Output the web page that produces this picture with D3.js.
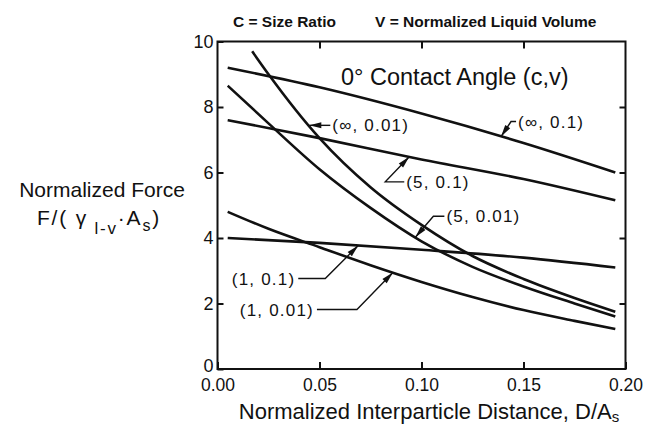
<!DOCTYPE html>
<html>
<head>
<meta charset="utf-8">
<script src="https://cdn.jsdelivr.net/npm/d3@7"></script>
<style>
  body { margin: 0; background: #fff; }
  svg text { font-family: "Liberation Sans", "DejaVu Sans", sans-serif; fill: #111; }
</style>
</head>
<body>
<div id="chart"></div>
<script>

// ---- data ----
var xTicks = [0.00, 0.05, 0.10, 0.15, 0.20];
var yTicks = [0, 2, 4, 6, 8, 10];

var seriesInf01 = [[0.005, 9.2], [0.05, 8.6], [0.10, 7.8], [0.15, 6.9], [0.195, 6.0]];
var seriesFive01 = [[0.005, 7.6], [0.05, 7.05], [0.10, 6.4], [0.15, 5.8], [0.195, 5.15]];
var seriesInf001 = [[0.017, 9.7], [0.025, 9.0], [0.05, 7.05], [0.075, 5.55], [0.10, 4.4],
		[0.125, 3.45], [0.15, 2.75], [0.175, 2.17], [0.195, 1.75]];
var seriesFive001 = [[0.005, 8.65], [0.025, 7.5], [0.05, 6.1], [0.075, 4.92], [0.10, 3.9],
		[0.125, 3.12], [0.15, 2.52], [0.175, 2.0], [0.195, 1.6]];
var seriesOne01 = [[0.005, 4.0], [0.05, 3.85], [0.10, 3.64], [0.15, 3.4], [0.195, 3.1]];
var seriesOne001 = [[0.005, 4.8], [0.025, 4.28], [0.05, 3.72], [0.075, 3.17], [0.10, 2.66],
		[0.125, 2.2], [0.15, 1.8], [0.175, 1.47], [0.195, 1.22]];

var seriesNames = ["(\u221E, 0.1)", "(5, 0.1)", "(\u221E, 0.01)", "(5, 0.01)", "(1, 0.1)", "(1, 0.01)"];
var seriesList = [seriesInf01, seriesFive01, seriesInf001, seriesFive001, seriesOne01, seriesOne001];
// x position (D/As) where each label's arrow touches its curve
var labelAtX = [0.139, 0.094, 0.045, 0.097, 0.069, 0.086];

// ---- layout ----
var width = 651, height = 424;
var margin = {top: 41.5, right: 25.5, bottom: 55, left: 217.5};
var innerW = width - margin.left - margin.right;
var innerH = height - margin.top - margin.bottom;

var svg = d3.select("#chart").append("svg")
	.attr("width", width)
	.attr("height", height);

var g = svg.append("g")
	.attr("transform", "translate(" + margin.left + "," + margin.top + ")");

var x = d3.scaleLinear().domain([0, 0.2]).range([0, innerW]);
var y = d3.scaleLinear().domain([0, 10]).range([innerH, 0]);

// axes, ticks pointing inward
var xAxis = d3.axisBottom(x).tickValues(xTicks).tickSize(-7).tickSizeOuter(0)
	.tickPadding(14).tickFormat(d3.format(".2f"));
var yAxis = d3.axisLeft(y).tickValues(yTicks).tickSize(-6).tickSizeOuter(0)
	.tickPadding(4).tickFormat(d3.format("d"));
var xTop = d3.axisTop(x).tickValues([0.05, 0.10, 0.15]).tickSize(-7).tickSizeOuter(0).tickFormat("");
var yRight = d3.axisRight(y).tickValues([2, 4, 6, 8]).tickSize(-6).tickSizeOuter(0).tickFormat("");

function styleAxis(sel) {
	sel.select(".domain").remove();
	sel.selectAll("line").attr("stroke", "#111").attr("stroke-width", 2);
	sel.selectAll("text").attr("fill", "#111")
		.style("font-family", "'Liberation Sans', sans-serif")
		.style("font-size", "18px");
}

g.append("g").attr("transform", "translate(0," + innerH + ")").call(xAxis).call(styleAxis)
	.selectAll("text").attr("dy", "0.45em").style("font-size", "17.5px");
g.append("g").call(yAxis).call(styleAxis)
	.selectAll("text").attr("dy", function(d) { return d === 0 ? "0.12em" : "0.32em"; });
g.append("g").call(xTop).call(styleAxis);
g.append("g").attr("transform", "translate(" + innerW + ",0)").call(yRight).call(styleAxis);

g.append("rect")
	.attr("width", innerW).attr("height", innerH)
	.attr("fill", "none").attr("stroke", "#111").attr("stroke-width", 2);

// curves
var line = d3.line()
	.x(function(d) { return x(d[0]); })
	.y(function(d) { return y(d[1]); })
	.curve(d3.curveMonotoneX);

g.selectAll("path.curve").data(seriesList).enter().append("path")
	.attr("class", "curve")
	.attr("d", line)
	.attr("fill", "none")
	.attr("stroke", "#111")
	.attr("stroke-width", 2.6);

// value on a series at a given x (linear between read points)
function valueAt(series, xv) {
	for (var i = 1; i < series.length; i++) {
		if (xv <= series[i][0]) {
			var a = series[i - 1], b = series[i];
			return a[1] + (b[1] - a[1]) * (xv - a[0]) / (b[0] - a[0]);
		}
	}
	return series[series.length - 1][1];
}

// leader shapes, offsets in px from the arrow tip: knee, end of leader, text anchor
var leaders = [
	{knee: [10, -15], end: [15, -15], anchor: "start"},
	{knee: [-24, 25], end: [-5, 25], anchor: "start"},
	{knee: [14, 0], end: [21, 0], anchor: "start"},
	{knee: [18, -21], end: [29, -21], anchor: "start"},
	{knee: [-33, 33], end: [-60, 33], anchor: "end"},
	{knee: [-36, 37], end: [-76, 37], anchor: "end"}
];

var ann = g.append("g").attr("class", "annotations");

seriesNames.forEach(function(name, i) {

	var tx = x(labelAtX[i]);
	var ty = y(valueAt(seriesList[i], labelAtX[i]));
	var L = leaders[i];

	ann.append("path")
		.attr("d", "M" + tx + "," + ty + "L" + (tx + L.knee[0]) + "," + (ty + L.knee[1])
			+ "L" + (tx + L.end[0]) + "," + (ty + L.end[1]))
		.attr("fill", "none").attr("stroke", "#111").attr("stroke-width", 1.4);

	// arrow head pointing to the curve
	var ang = Math.atan2(L.knee[1], L.knee[0]);
	var len = 12, hw = 3;
	var bx = tx + Math.cos(ang) * len, by = ty + Math.sin(ang) * len;
	var px = -Math.sin(ang) * hw, py = Math.cos(ang) * hw;
	ann.append("path")
		.attr("d", "M" + tx + "," + ty + "L" + (bx + px) + "," + (by + py)
			+ "L" + (bx - px) + "," + (by - py) + "Z")
		.attr("fill", "#111");

	ann.append("text")
		.attr("x", tx + L.end[0] + (L.anchor == "start" ? 2 : -3))
		.attr("y", ty + L.end[1])
		.attr("dy", "0.36em")
		.attr("text-anchor", L.anchor)
		.style("font-size", "17px")
		.style("letter-spacing", "1.2px")
		.text(name);
});// END: labels loop

// titles
svg.append("text").attr("x", 233).attr("y", 27)
	.style("font-size", "15.5px").style("font-weight", "bold")
	.text("C = Size Ratio");
svg.append("text").attr("x", 375).attr("y", 27)
	.style("font-size", "15.5px").style("font-weight", "bold")
	.text("V = Normalized Liquid Volume");

svg.append("text").attr("x", 341).attr("y", 85)
	.style("font-size", "23.5px")
	.text("0\u00B0 Contact Angle (c,v)");

svg.append("text").attr("x", 102).attr("y", 197)
	.attr("text-anchor", "middle")
	.style("font-size", "21px")
	.text("Normalized Force");

var yl2 = svg.append("text").attr("x", 99).attr("y", 225)
	.attr("text-anchor", "middle")
	.style("font-size", "21px")
	.style("letter-spacing", "1.8px");
yl2.append("tspan").text("F/( \u03B3");
yl2.append("tspan").attr("dy", 9).style("font-size", "17px").text(" l-v");
yl2.append("tspan").attr("dy", -9).text("\u00B7A");
yl2.append("tspan").attr("dy", 6).style("font-size", "16px").text("s");
yl2.append("tspan").attr("dy", -6).text(")");

var xl = svg.append("text").attr("x", 429).attr("y", 419)
	.attr("text-anchor", "middle")
	.style("font-size", "22px");
xl.append("tspan").text("Normalized Interparticle Distance, D/A");
xl.append("tspan").attr("dy", 3).style("font-size", "15px").text("s");

</script>
</body>
</html>
